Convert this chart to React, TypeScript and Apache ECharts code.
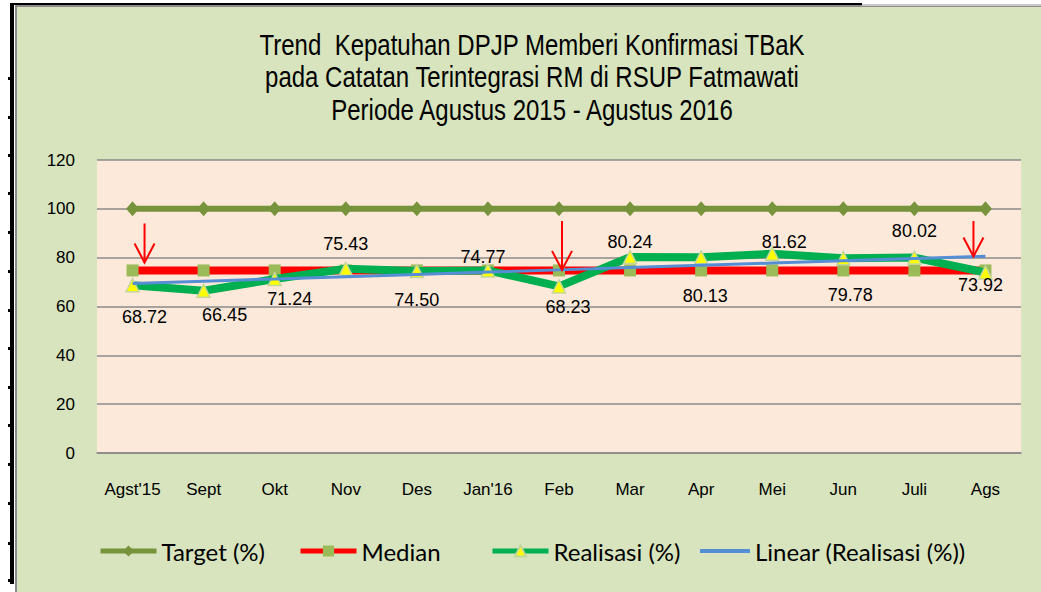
import React, { useEffect, useRef } from "react";
import * as echarts from "echarts";

const categories = ["Agst'15", "Sept", "Okt", "Nov", "Des", "Jan'16", "Feb", "Mar", "Apr", "Mei", "Jun", "Juli", "Ags"];
const targetValues = [100, 100, 100, 100, 100, 100, 100, 100, 100, 100, 100, 100, 100];
const medianValues = [74.77, 74.77, 74.77, 74.77, 74.77, 74.77, 74.77, 74.77, 74.77, 74.77, 74.77, 74.77, 74.77];
const realisasiValues = [68.72, 66.45, 71.24, 75.43, 74.5, 74.77, 68.23, 80.24, 80.13, 81.62, 79.78, 80.02, 73.92];
const linearValues = [69.45, 70.38, 71.3, 72.23, 73.15, 74.08, 75.0, 75.93, 76.86, 77.78, 78.71, 79.64, 80.56];
// arrow annotations: [category index, top value, tip value]
const arrowMarks = [
  [0, 94, 78],
  [6, 95, 75],
  [12, 95, 80.5],
];
const yMin = 0;
const yMax = 120;
const yInterval = 20;

// style constants (pixel offsets)
const LABEL_OFFSETS = [
  [12, 32], [21, 24], [15, 20], [0, -25], [0, 29], [-5, -13], [9, 21],
  [0, -15], [4, 39], [12, -12], [7, 37], [0, -27], [-5, 12],
];
const ARROW_DX = [12, 3, -12];

const FONT = "'Liberation Sans', Arial, sans-serif";
const LEGEND_FONT = "Lato, 'Noto Sans', sans-serif";

export default function App() {
  const ref = useRef<HTMLDivElement>(null);

  useEffect(() => {
    if (!ref.current) return;
    const chart = echarts.init(ref.current, null, { renderer: "svg" });

    const ticksY = [78, 117, 155, 193, 232, 271, 310, 348, 387, 425, 464, 503, 543, 580];
    const frame: any[] = [
      { type: "rect", shape: { x: 0, y: 0, width: 16, height: 592 }, style: { fill: "#ffffff" }, silent: true },
      { type: "rect", shape: { x: 0, y: 0, width: 1041, height: 6 }, style: { fill: "#ffffff" }, silent: true },
      { type: "rect", shape: { x: 15, y: 5, width: 1026, height: 2 }, style: { fill: "#8C8C8C" }, silent: true },
      { type: "rect", shape: { x: 15, y: 5, width: 2, height: 587 }, style: { fill: "#8C8C8C" }, silent: true },
      { type: "rect", shape: { x: 10, y: 3, width: 852, height: 2 }, style: { fill: "#000000" }, silent: true },
      { type: "rect", shape: { x: 862, y: 4, width: 179, height: 2 }, style: { fill: "#C8C8C8" }, silent: true },
      { type: "rect", shape: { x: 10, y: 3, width: 4, height: 581 }, style: { fill: "#000000" }, silent: true },
      ...ticksY.map((y) => ({
        type: "rect",
        shape: { x: 8, y: y - 1, width: 6, height: 3 },
        style: { fill: "#000000" },
        silent: true,
      })),
      {
        type: "text",
        x: 532,
        y: 29,
        scaleX: 1,
        scaleY: 1.2,
        style: {
          text: "Trend  Kepatuhan DPJP Memberi Konfirmasi TBaK\npada Catatan Terintegrasi RM di RSUP Fatmawati\nPeriode Agustus 2015 - Agustus 2016",
          font: `24px ${FONT}`,
          fill: "#000000",
          textAlign: "center",
          textVerticalAlign: "top",
          lineHeight: 27,
        },
      },
    ];

    const legendCommon = {
      top: 539,
      padding: 0,
      itemWidth: 56,
      itemHeight: 14,
      textStyle: { fontFamily: LEGEND_FONT, fontSize: 24, color: "#000000" },
      lineStyle: { width: 5 },
    };

    chart.setOption({
      animation: false,
      backgroundColor: "#D7E4BD",
      graphic: frame,
      legend: [
        { ...legendCommon, left: 98, data: ["Target (%)"] },
        { ...legendCommon, left: 298, data: ["Median"] },
        { ...legendCommon, left: 490, data: ["Realisasi (%)"] },
        {
          ...legendCommon,
          left: 700,
          itemWidth: 50,
          itemHeight: 4,
          data: [{ name: "Linear (Realisasi (%))", icon: "rect" }],
        },
      ],
      grid: {
        left: 97,
        right: 20,
        top: 160,
        bottom: 139,
        show: true,
        backgroundColor: "#FDE9D9",
        borderWidth: 0,
      },
      xAxis: {
        type: "category",
        data: categories,
        boundaryGap: true,
        axisLine: { show: true, lineStyle: { color: "#8A8A8A", width: 1.5 } },
        axisTick: { show: false },
        axisLabel: { color: "#000000", fontFamily: FONT, fontSize: 17, margin: 28, interval: 0 },
      },
      yAxis: {
        type: "value",
        min: yMin,
        max: yMax,
        interval: yInterval,
        axisLine: { show: false },
        axisTick: { show: false },
        axisLabel: { color: "#000000", fontFamily: FONT, fontSize: 17, margin: 22 },
        splitLine: { show: true, lineStyle: { color: "#8A8A8A", width: 1.5 } },
      },
      series: [
        {
          name: "Target (%)",
          type: "line",
          data: targetValues,
          symbol: "diamond",
          symbolSize: [13, 15],
          lineStyle: { color: "#77933C", width: 6 },
          itemStyle: { color: "#77933C" },
          z: 2,
        },
        {
          name: "Median",
          type: "line",
          data: medianValues,
          symbol: "rect",
          symbolSize: 12,
          lineStyle: { color: "#FF0000", width: 8 },
          itemStyle: { color: "#9BBB59" },
          z: 3,
        },
        {
          name: "Realisasi (%)",
          type: "line",
          data: realisasiValues.map((v, i) => ({
            value: v,
            label: {
              show: true,
              position: "inside",
              offset: LABEL_OFFSETS[i],
              formatter: v.toFixed(2),
            },
          })),
          symbol: "triangle",
          symbolSize: 13,
          lineStyle: { color: "#00B050", width: 8 },
          itemStyle: { color: "#FFFF00", borderColor: "#C3D69B", borderWidth: 1.5 },
          label: { color: "#000000", fontFamily: FONT, fontSize: 18 },
          z: 4,
        },
        {
          name: "Linear (Realisasi (%))",
          type: "line",
          data: linearValues,
          symbol: "none",
          lineStyle: { color: "#558ED5", width: 3 },
          itemStyle: { color: "#558ED5" },
          z: 5,
        },
        {
          name: "arrows",
          type: "custom",
          data: arrowMarks,
          encode: { x: 0, y: [1, 2] },
          z: 6,
          renderItem: (params: any, api: any) => {
            const top = api.coord([api.value(0), api.value(1)]);
            const tip = api.coord([api.value(0), api.value(2)]);
            const x = top[0] + ARROW_DX[params.dataIndex];
            return {
              type: "group",
              children: [
                {
                  type: "line",
                  shape: { x1: x, y1: top[1], x2: x, y2: tip[1] },
                  style: { stroke: "#FF0000", lineWidth: 2 },
                },
                {
                  type: "polyline",
                  shape: { points: [[x - 10, tip[1] - 19], [x, tip[1]], [x + 10, tip[1] - 19]] },
                  style: { stroke: "#FF0000", lineWidth: 2, fill: "none" },
                },
              ],
            };
          },
        },
      ],
    });

    return () => chart.dispose();
  }, []);

  return (
    <div
      ref={ref}
      style={{ position: "fixed", left: 0, top: 0, width: 1041, height: 592 }}
    />
  );
}
